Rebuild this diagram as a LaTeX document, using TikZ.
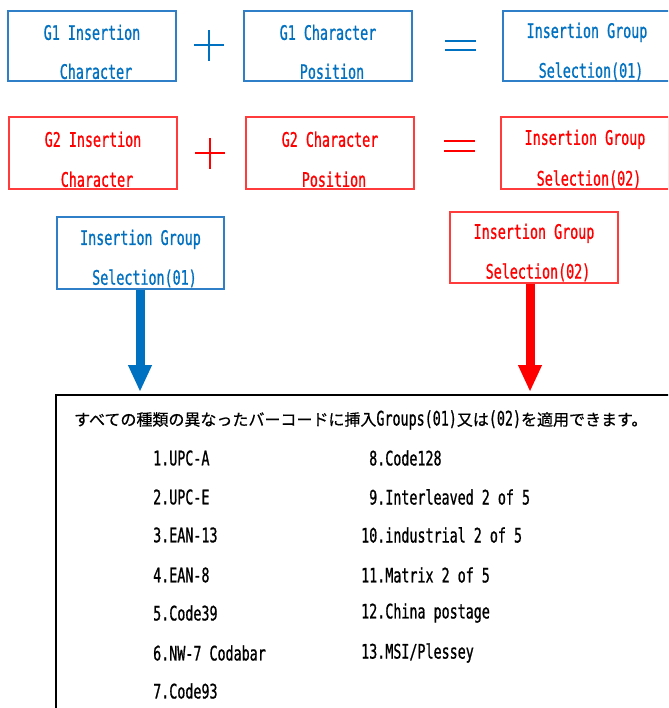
\documentclass[tikz,border=0pt]{standalone}
\usepackage{fontspec}
\newfontfamily\mono[FakeStretch=0.668,FakeBold=0.9]{DejaVu Sans Mono}
\newfontfamily\jp[FakeBold=0.6]{Noto Sans CJK JP}
\usetikzlibrary{calc,arrows.meta}
\definecolor{cblue}{HTML}{0070C0}
\definecolor{cbblue}{HTML}{2E7FC8}
\definecolor{cred}{HTML}{FF0000}
\definecolor{cbred}{HTML}{FF3B3B}
\newcommand\mfont{\mono\fontsize{20}{20}\selectfont}
\tikzset{
  gbox/.style={draw=cbblue,line width=1.2pt,minimum width=168pt,minimum height=70pt,inner sep=0pt},
  rbox/.style={draw=cbred,line width=1.4pt,minimum width=168pt,minimum height=72pt,inner sep=0pt},
  btxt/.style={inner sep=0pt,font=\mfont},
  ltxt/.style={inner sep=0pt,anchor=west,font=\mfont},
  fatarrow/.style={line width=9pt,-{Triangle[length=27pt,width=22pt]}},
  sym/.style={line width=2pt},
}
\begin{document}
\begin{tikzpicture}[x=1pt,y=-1pt]
\useasboundingbox (0,0) rectangle (668,708);
\clip (0,0) rectangle (668,708);
% row 1
\node[gbox] (b11) at (92,46) {};
\node[gbox] (b12) at (328,46) {};
\node[gbox] (b13) at (587,46) {};
\foreach \n/\a/\b in {b11/G1 Insertion/Character, b12/G1 Character/Position, b13/Insertion Group/Selection(01)}{
  \node[btxt,text=cblue] (\n a) at ($(\n.north)+(0,22)$) {\a};
  \node[btxt,text=cblue] (\n b) at ($(\n.north)+(4,61)$) {\b};
}
\draw[sym,cblue] (194,45) -- (224,45) (209,30) -- (209,61);
\draw[sym,cblue,line width=2.5pt] (445,41) -- (476,41) (445,50) -- (476,50);
% row 2
\node[rbox] (b21) at (93,153) {};
\node[rbox] (b22) at (330,153) {};
\node[rbox] (b23) at (585,153) {};
\foreach \n/\a/\b in {b21/G2 Insertion/Character, b22/G2 Character/Position, b23/Insertion Group/Selection(02)}{
  \node[btxt,text=cred] (\n a) at ($(\n.north)+(0,23)$) {\a};
  \node[btxt,text=cred] (\n b) at ($(\n.north)+(4,63)$) {\b};
}
\draw[sym,cred] (195,153) -- (225,153) (210,138) -- (210,169);
\draw[sym,cred,line width=2.5pt] (444,141) -- (475,141) (444,151) -- (475,151);
% row 3
\node[gbox,minimum width=167pt,minimum height=72pt] (b31) at (140.5,253) {};
\node[btxt,text=cblue] (b31a) at ($(b31.north)+(0,23)$) {Insertion Group};
\node[btxt,text=cblue] (b31b) at ($(b31.north)+(4,62)$) {Selection(01)};
\node[rbox,minimum height=71pt] (b32) at (534,247.5) {};
\node[btxt,text=cred] (b32a) at ($(b32.north)+(0,22)$) {Insertion Group};
\node[btxt,text=cred] (b32b) at ($(b32.north)+(4,61)$) {Selection(02)};
% big box
\draw[line width=2pt,black] (56,395) rectangle (690,730);
\coordinate (t1) at (140,392);
\coordinate (t2) at (530,392);
\draw[fatarrow,cblue] (b31.south -| t1) -- (t1);
\draw[fatarrow,cred] (b32.south -| t2) -- (t2);
% header
\node[inner sep=0pt,anchor=west] (hdr) at (74,420) {\jp\fontsize{16}{16}\selectfont すべての種類の異なったバーコードに挿入{\mfont Groups(01)}又は{\mfont (02)}を適用できます。};
% list
\node[ltxt] (l1) at (153,458) {1.UPC-A};
\node[ltxt] (l2) at (153,497) {2.UPC-E};
\node[ltxt] (l3) at (153,535) {3.EAN-13};
\node[ltxt] (l4) at (153,575) {4.EAN-8};
\node[ltxt] (l5) at (153,613) {5.Code39};
\node[ltxt] (l6) at (153,653) {6.NW-7 Codabar};
\node[ltxt] (l7) at (153,691) {7.Code93};
\node[ltxt] (l8) at (369,458) {8.Code128};
\node[ltxt] (l9) at (369,497) {9.Interleaved 2 of 5};
\node[ltxt] (l10) at (361,535) {10.industrial 2 of 5};
\node[ltxt] (l11) at (361,575) {11.Matrix 2 of 5};
\node[ltxt] (l12) at (361,613) {12.China postage};
\node[ltxt] (l13) at (361,653) {13.MSI/Plessey};
\end{tikzpicture}
\end{document}
